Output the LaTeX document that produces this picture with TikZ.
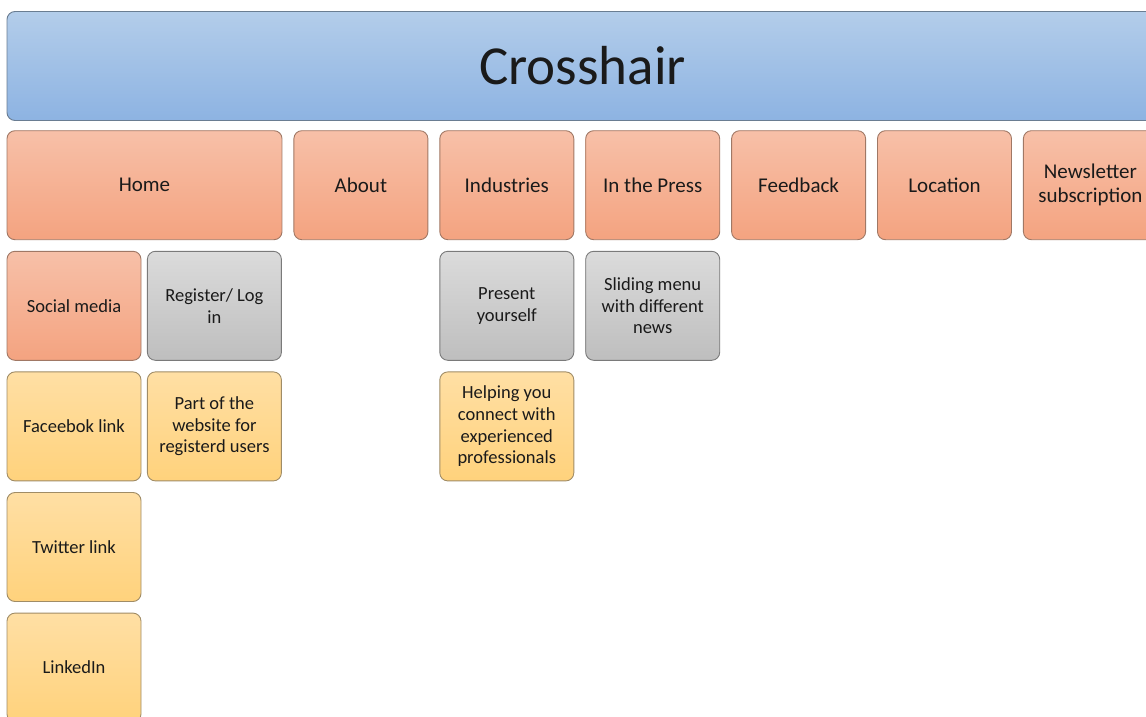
\documentclass[tikz,border=0pt]{standalone}
\usepackage{fontspec}
\setmainfont{Carlito}
\usetikzlibrary{positioning}

\definecolor{bluetop}{HTML}{B3CDEA}
\definecolor{bluebot}{HTML}{8DB3E2}
\definecolor{blueline}{HTML}{6A7D92}
\definecolor{salmontop}{HTML}{F7C0A8}
\definecolor{salmonbot}{HTML}{F4A380}
\definecolor{salmonline}{HTML}{A07865}
\definecolor{greytop}{HTML}{DBDBDB}
\definecolor{greybot}{HTML}{BEBEBE}
\definecolor{greyline}{HTML}{7A7A7A}
\definecolor{yellowtop}{HTML}{FFDFA4}
\definecolor{yellowbot}{HTML}{FFD27C}
\definecolor{yellowline}{HTML}{A08C66}
\definecolor{textdark}{HTML}{1A1A1A}

\begin{document}
\begin{tikzpicture}[
    node distance=10.7pt and 11pt,
    mybox/.style={draw, line width=0.9pt, rounded corners=8pt, align=center,
        minimum width=134pt, minimum height=109pt, inner sep=2pt,
        text=textdark, font=\fontsize{18.5}{21.7}\selectfont},
    mytitle/.style={mybox, top color=bluetop, bottom color=bluebot, draw=blueline,
        minimum width=1151pt, font=\fontsize{55}{60}\selectfont},
    mymenu/.style={mybox, top color=salmontop, bottom color=salmonbot, draw=salmonline,
        font=\fontsize{21}{24}\selectfont},
    mysalmon/.style={mybox, top color=salmontop, bottom color=salmonbot, draw=salmonline},
    mygrey/.style={mybox, top color=greytop, bottom color=greybot, draw=greyline},
    myyellow/.style={mybox, top color=yellowtop, bottom color=yellowbot, draw=yellowline},
]

% page frame
\path[use as bounding box, clip] (0,0) rectangle (1146pt,-717pt);

% Title
\node[mytitle] (title) at (582.5pt,-66pt) {Crosshair};

% Menu row
\node[mymenu, minimum width=275pt, anchor=north west] (home) at ([yshift=-9.3pt]title.south west) {Home};
\node[mymenu, right=of home] (about) {About};
\node[mymenu, right=of about] (industries) {Industries};
\node[mymenu, right=of industries] (press) {In the Press};
\node[mymenu, right=of press] (feedback) {Feedback};
\node[mymenu, right=of feedback] (location) {Location};
\node[mymenu, right=of location] (newsletter) {Newsletter\\subscription};

% Home column
\node[mysalmon, below=of home.south west, anchor=north west] (social) {Social media};
\node[mygrey, right=5.5pt of social] (register) {Register/ Log\\in};
\node[myyellow, below=of social] (facebook) {Faceebok link};
\node[myyellow, below=of register] (members) {Part of the\\website for\\registerd users};
\node[myyellow, below=of facebook] (twitter) {Twitter link};
\node[myyellow, below=of twitter] (linkedin) {LinkedIn};

% Industries column
\node[mygrey, below=of industries] (present) {Present\\yourself};
\node[myyellow, below=of present] (helping) {Helping you\\connect with\\experienced\\professionals};

% Press column
\node[mygrey, below=of press] (sliding) {Sliding menu\\with different\\news};

\end{tikzpicture}
\end{document}
